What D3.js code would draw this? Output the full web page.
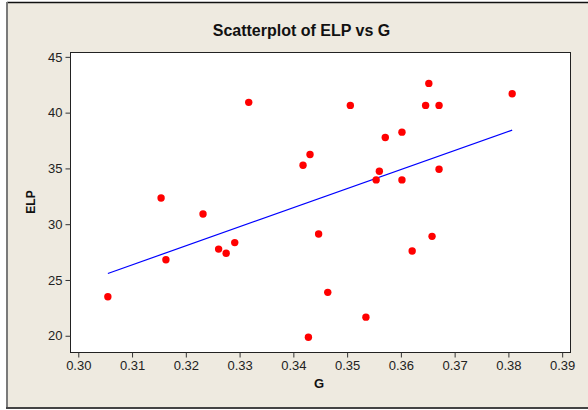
<!DOCTYPE html>
<html>
<head>
<meta charset="utf-8">
<script src="https://cdn.jsdelivr.net/npm/d3@7"></script>
<style>
  body { margin: 0; background: #fff; }
  svg { display: block; font-family: "Liberation Sans", Arial, sans-serif; }
</style>
</head>
<body>
<svg id="chart" width="588" height="410"></svg>
<script>
var gValues = [0.3055, 0.3154, 0.3163, 0.3232, 0.3261, 0.3275, 0.3291, 0.3317, 0.3418,
    0.3431, 0.3428, 0.3447, 0.3464, 0.3506, 0.3535, 0.3560, 0.3554, 0.3571, 0.3602,
    0.3602, 0.3621, 0.3646, 0.3652, 0.3658, 0.3671, 0.3671, 0.3807];
var elpValues = [23.5, 32.35, 26.82, 30.92, 27.77, 27.39, 28.35, 40.92, 35.29,
    36.25, 19.87, 29.12, 23.89, 40.65, 21.67, 34.75, 33.97, 37.77, 38.25,
    33.97, 27.6, 40.65, 42.62, 28.91, 40.65, 34.93, 41.69];
var xTicks = [0.30, 0.31, 0.32, 0.33, 0.34, 0.35, 0.36, 0.37, 0.38, 0.39];
var yTicks = [20, 25, 30, 35, 40, 45];

var svg = d3.select('svg#chart');

// frame
svg.append('rect').attr('x', 7).attr('y', 2).attr('width', 581).attr('height', 406)
    .attr('fill', '#eeeae0');
svg.append('line').attr('x1', 7).attr('x2', 588).attr('y1', 2.5).attr('y2', 2.5)
    .attr('stroke', '#111').attr('stroke-width', 1.5);
svg.append('line').attr('x1', 7).attr('x2', 7).attr('y1', 2).attr('y2', 409)
    .attr('stroke', '#7a7a7a').attr('stroke-width', 2);
svg.append('line').attr('x1', 6).attr('x2', 588).attr('y1', 408).attr('y2', 408)
    .attr('stroke', '#444').attr('stroke-width', 2);

var plotL = 70.5, plotR = 570.5, plotT = 52.5, plotB = 352.5;

var x = d3.scaleLinear().domain([0.29855, 0.39155]).range([plotL, plotR]);
var y = d3.scaleLinear().domain([18.5, 45.39]).range([plotB, plotT]);

svg.append('rect').attr('x', plotL).attr('y', plotT)
    .attr('width', plotR - plotL).attr('height', plotB - plotT)
    .attr('fill', '#fff').attr('stroke', '#222');

var xAxis = svg.append('g').attr('transform', 'translate(0,' + plotB + ')')
    .call(d3.axisBottom(x).tickValues(xTicks).tickFormat(d3.format('.2f'))
        .tickSizeInner(5).tickSizeOuter(0).tickPadding(3));
var yAxis = svg.append('g').attr('transform', 'translate(' + plotL + ',0)')
    .call(d3.axisLeft(y).tickValues(yTicks).tickSizeInner(5).tickSizeOuter(0).tickPadding(3));

[xAxis, yAxis].forEach(function (a) {
    a.select('.domain').remove();
    a.selectAll('line').attr('stroke', '#333');
    a.selectAll('text').attr('font-size', 13).attr('fill', '#222')
        .attr('font-family', '"Liberation Sans", Arial, sans-serif');
});

// least squares fit
var mx = d3.mean(gValues), my = d3.mean(elpValues);
var sxy = d3.sum(gValues, function (d, i) { return (d - mx) * (elpValues[i] - my); });
var sxx = d3.sum(gValues, function (d) { return (d - mx) * (d - mx); });
var slope = sxy / sxx, intercept = my - slope * mx;
var ext = d3.extent(gValues);

svg.append('path')
    .datum(ext)
    .attr('fill', 'none').attr('stroke', '#0000ff').attr('stroke-width', 1.2)
    .attr('d', d3.line()
        .x(function (d) { return x(d); })
        .y(function (d) { return y(intercept + slope * d); }));

svg.append('g').selectAll('circle')
    .data(gValues)
    .enter().append('circle')
    .attr('cx', function (d) { return x(d); })
    .attr('cy', function (d, i) { return y(elpValues[i]); })
    .attr('r', 3.7)
    .attr('fill', '#ff0000');

svg.append('text').attr('x', 301.5).attr('y', 36)
    .attr('text-anchor', 'middle').attr('font-weight', 'bold').attr('font-size', 16)
    .attr('fill', '#111').text('Scatterplot of ELP vs G');

svg.append('text').attr('x', 319).attr('y', 388)
    .attr('text-anchor', 'middle').attr('font-weight', 'bold').attr('font-size', 13)
    .attr('fill', '#111').text('G');

svg.append('text').attr('transform', 'translate(35,202) rotate(-90)')
    .attr('text-anchor', 'middle').attr('font-weight', 'bold').attr('font-size', 12)
    .attr('fill', '#111').text('ELP');
</script>
</body>
</html>
